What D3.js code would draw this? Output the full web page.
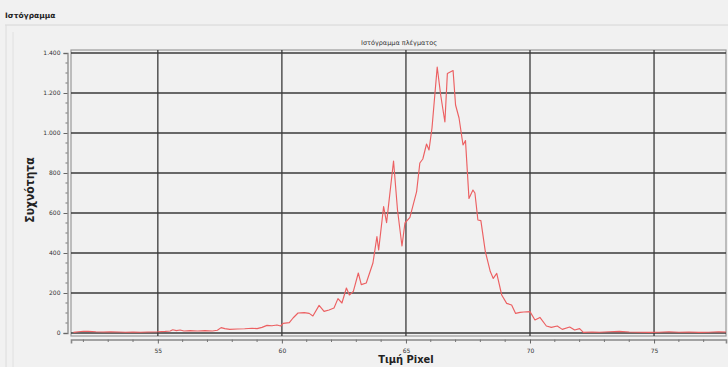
<!DOCTYPE html>
<html><head><meta charset="utf-8">
<script src="https://cdn.jsdelivr.net/npm/d3@7"></script>
<style>
html,body{margin:0;padding:0;background:#f1f1f1;}
svg{display:block;}
</style></head>
<body>
<script>
const panelTitle = "Ιστόγραμμα";
const chartTitle = "Ιστόγραμμα πλέγματος";
const xLabel = "Τιμή Pixel";
const yLabel = "Συχνότητα";
const xTicks = [55, 60, 65, 70, 75];
const yTicks = [0, 200, 400, 600, 800, 1000, 1200, 1400];
const xs = [51.6,51.8,52.0,52.2,52.5,52.8,53.1,53.4,53.7,54.0,54.3,54.6,55.0,55.3,55.5,55.6,55.75,55.9,56.05,56.3,56.6,56.9,57.2,57.4,57.55,57.7,57.9,58.2,58.5,58.8,59.0,59.2,59.4,59.6,59.8,59.95,60.05,60.3,60.45,60.65,60.9,61.1,61.25,61.5,61.7,61.9,62.1,62.26,62.42,62.6,62.72,62.88,63.08,63.2,63.4,63.67,63.83,63.9,64.1,64.22,64.5,64.66,64.84,64.96,65.16,65.43,65.56,65.68,65.83,65.93,66.05,66.26,66.4,66.57,66.67,66.9,67.0,67.14,67.3,67.4,67.54,67.7,67.78,67.9,68.02,68.2,68.4,68.52,68.66,68.86,69.06,69.26,69.42,69.6,69.75,70.0,70.2,70.4,70.66,70.86,71.1,71.3,71.6,71.8,72.0,72.15,72.5,72.8,73.2,73.6,74.0,74.4,74.8,75.2,75.6,76.0,76.4,76.8,77.2,77.6,77.9];
const counts = [3,6,9,8,6,5,6,5,4,5,4,5,6,8,10,16,12,15,10,12,10,12,10,14,27,22,18,20,21,24,22,28,38,36,40,35,48,52,75,100,102,98,85,138,108,115,125,172,150,225,190,208,300,242,250,350,482,415,632,552,860,615,435,550,578,707,850,870,945,915,1025,1330,1190,1055,1298,1312,1140,1075,940,962,673,715,700,565,562,407,307,273,298,190,148,140,98,103,105,107,65,78,35,28,35,18,30,15,22,3,5,4,6,8,5,4,3,4,6,4,5,3,4,6,5];

const W = 728, H = 367;
const svg = d3.select("body").append("svg").attr("width", W).attr("height", H);
const font = "'DejaVu Sans', sans-serif";
const condensed = "'DejaVu Sans Condensed', 'DejaVu Sans', sans-serif";

// panel decorations
svg.append("text").attr("x", 5).attr("y", 18).attr("font-family", font)
  .attr("font-weight", "bold").attr("font-size", 7.5).attr("fill", "#222").text(panelTitle);
svg.append("line").attr("x1", 5).attr("x2", W).attr("y1", 25).attr("y2", 25).attr("stroke", "#d6d6d6");
svg.append("line").attr("x1", 6).attr("x2", 6).attr("y1", 25).attr("y2", H).attr("stroke", "#dcdcdc");
svg.append("line").attr("x1", 13).attr("x2", 13).attr("y1", 32).attr("y2", H).attr("stroke", "#e0e0e0");

const L = 71, R = 726, T = 50, B = 336;
const x = d3.scaleLinear().domain([51.5, 77.9]).range([L, R]);
const y = d3.scaleLinear().domain([0, 1400]).range([333, 53]);

svg.append("text").attr("x", 399).attr("y", 45).attr("text-anchor", "middle")
  .attr("font-family", font).attr("font-size", 6.5).attr("fill", "#333").text(chartTitle);

// plot frame
svg.append("rect").attr("x", L).attr("y", T).attr("width", R - L).attr("height", B - T)
  .attr("fill", "#f1f1f1").attr("stroke", "#9a9a9a").attr("stroke-width", 1.2);

// grid
svg.append("g").selectAll("line").data(yTicks).join("line")
  .attr("x1", L).attr("x2", R).attr("y1", d => y(d)).attr("y2", d => y(d))
  .attr("stroke", "#3a3a3a").attr("stroke-width", 1.3);
svg.append("g").selectAll("line").data(xTicks).join("line")
  .attr("x1", d => x(d)).attr("x2", d => x(d)).attr("y1", T).attr("y2", B)
  .attr("stroke", "#3a3a3a").attr("stroke-width", 1.3);

// curve
const pts = xs.map((v, i) => [v, counts[i]]);
svg.append("path").datum(pts)
  .attr("fill", "none").attr("stroke", "#ec6062").attr("stroke-width", 1.15)
  .attr("stroke-linejoin", "round")
  .attr("d", d3.line().x(d => x(d[0])).y(d => y(d[1])));

// y axis
const yAxis = d3.axisLeft(y).tickValues(yTicks).tickSize(4).tickPadding(3)
  .tickFormat(d => d3.format(",")(d).replace(/,/g, "."));
const ga = svg.append("g").attr("transform", "translate(67.5,0)").call(yAxis);
ga.select(".domain").attr("stroke", "#888").attr("stroke-width", 1.3);
ga.selectAll(".tick line").attr("stroke", "#666");
ga.selectAll("text").attr("font-family", font).attr("font-size", 6).attr("fill", "#333");
const yMinor = d3.range(0, 1401, 50).filter(v => v % 200 !== 0);
svg.append("g").selectAll("line").data(yMinor).join("line")
  .attr("x1", 65.5).attr("x2", 67.5).attr("y1", d => y(d)).attr("y2", d => y(d))
  .attr("stroke", "#777");

// x axis
const xAxis = d3.axisBottom(x).tickValues(xTicks).tickSize(4).tickPadding(5)
  .tickFormat(d3.format("d"));
const gx = svg.append("g").attr("transform", "translate(0,339.5)").call(xAxis);
gx.select(".domain").attr("stroke", "#888").attr("stroke-width", 1.6);
gx.selectAll(".tick line").attr("stroke", "#666");
gx.selectAll("text").attr("font-family", font).attr("font-size", 6).attr("fill", "#333");
const xMinor = d3.range(52, 78).filter(v => v % 5 !== 0);
svg.append("g").selectAll("line").data(xMinor).join("line")
  .attr("x1", d => x(d)).attr("x2", d => x(d)).attr("y1", 339.5).attr("y2", 342)
  .attr("stroke", "#777");

svg.append("text").attr("x", x(65)).attr("y", 362.5).attr("text-anchor", "middle")
  .attr("font-family", condensed).attr("font-stretch", "condensed")
  .attr("font-weight", "bold").attr("font-size", 11).attr("fill", "#222").text(xLabel);
svg.append("text").attr("transform", "translate(34,190) rotate(-90)").attr("text-anchor", "middle")
  .attr("font-family", condensed).attr("font-stretch", "condensed")
  .attr("font-weight", "bold").attr("font-size", 12).attr("fill", "#222").text(yLabel);
</script>
</body></html>
